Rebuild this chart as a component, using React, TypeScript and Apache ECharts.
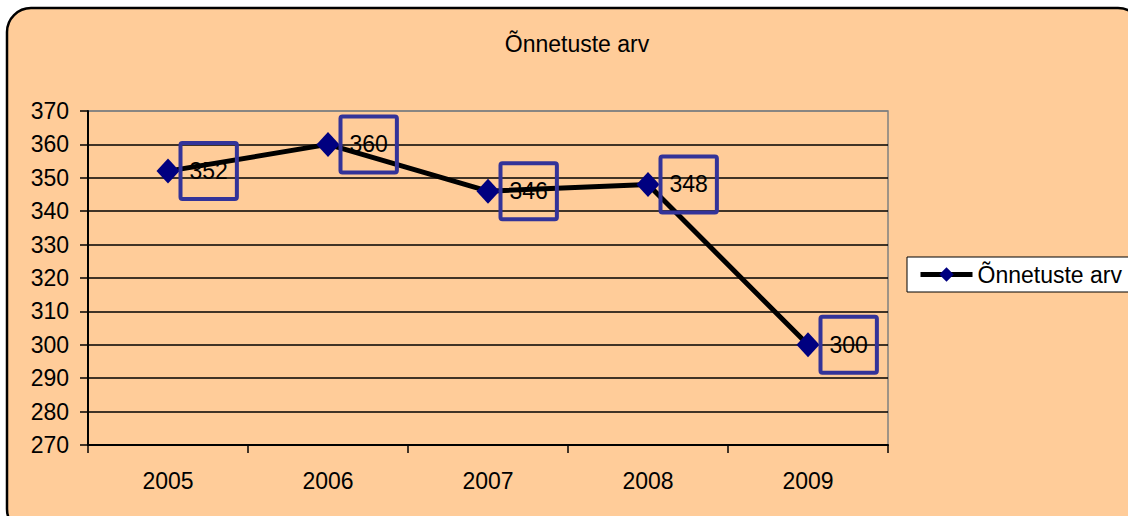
import React, { useEffect, useRef } from "react";
import * as echarts from "echarts";

const categories = ["2005", "2006", "2007", "2008", "2009"];
const seriesName = "Õnnetuste arv";
const values = [352, 360, 346, 348, 300];
const yMin = 270;
const yMax = 370;
const yStep = 10;

const FONT = "'Liberation Sans', Arial, sans-serif";

export default function App() {
  const ref = useRef<HTMLDivElement>(null);
  useEffect(() => {
    if (!ref.current) return;
    const chart = echarts.init(ref.current, null, { renderer: "svg" });
    const nLines = (yMax - yMin) / yStep + 1;
    const splitColors: string[] = [];
    for (let i = 0; i < nLines; i++) splitColors.push(i === nLines - 1 ? "#808080" : "#000000");
    chart.setOption({
      animation: false,
      backgroundColor: "#ffffff",
      textStyle: { fontFamily: FONT },
      graphic: [
        {
          type: "rect",
          z: -10,
          zlevel: 0,
          silent: true,
          shape: { x: 7, y: 8, width: 1135, height: 525, r: 24 },
          style: { fill: "#FFCC99", stroke: "#000000", lineWidth: 2.5 },
        },
      ],
      title: {
        text: seriesName,
        left: 572,
        textAlign: "center",
        top: 27,
        textStyle: { fontFamily: FONT, fontSize: 23, fontWeight: "normal", color: "#000" },
      },
      legend: {
        left: 907,
        top: 257,
        orient: "vertical",
        backgroundColor: "#ffffff",
        borderColor: "#000000",
        borderWidth: 1,
        borderRadius: 0,
        padding: [6, 12, 6, 11],
        itemWidth: 52,
        itemHeight: 18,
        lineStyle: { width: 5, color: "#000000" },
        textStyle: { fontFamily: FONT, fontSize: 23, color: "#000" },
        data: [seriesName],
      },
      grid: {
        left: 88,
        right: 240,
        top: 111,
        bottom: 71,
        show: true,
        borderColor: "#808080",
        borderWidth: 1.5,
        backgroundColor: "transparent",
      },
      xAxis: {
        type: "category",
        data: categories,
        boundaryGap: true,
        axisLine: { show: true, lineStyle: { color: "#000", width: 2 } },
        axisTick: { show: true, length: 8, alignWithLabel: false, lineStyle: { color: "#000", width: 1.5 } },
        axisLabel: { fontFamily: FONT, fontSize: 23, color: "#000", margin: 24 },
        splitLine: { show: false },
      },
      yAxis: {
        type: "value",
        min: yMin,
        max: yMax,
        interval: yStep,
        axisLine: { show: true, lineStyle: { color: "#000", width: 2 } },
        axisTick: { show: true, length: 8, lineStyle: { color: "#000", width: 1.5 } },
        axisLabel: { fontFamily: FONT, fontSize: 23, color: "#000", margin: 19 },
        splitLine: { show: true, lineStyle: { color: splitColors, width: 1.5 } },
      },
      series: [
        {
          name: seriesName,
          type: "line",
          data: values,
          symbol: "diamond",
          symbolSize: [23, 25],
          itemStyle: { color: "#000080" },
          lineStyle: { color: "#000000", width: 5 },
          label: {
            show: true,
            position: "right",
            distance: 1,
            fontFamily: FONT,
            fontSize: 23,
            color: "#000",
            lineHeight: 27,
            padding: [16, 9, 13, 9],
            borderColor: "#333399",
            borderWidth: 4,
            borderRadius: 2,
          },
        },
      ],
    });
    return () => chart.dispose();
  }, []);
  return (
    <div
      ref={ref}
      style={{ position: "fixed", left: 0, top: 0, width: 1128, height: 516 }}
    />
  );
}
